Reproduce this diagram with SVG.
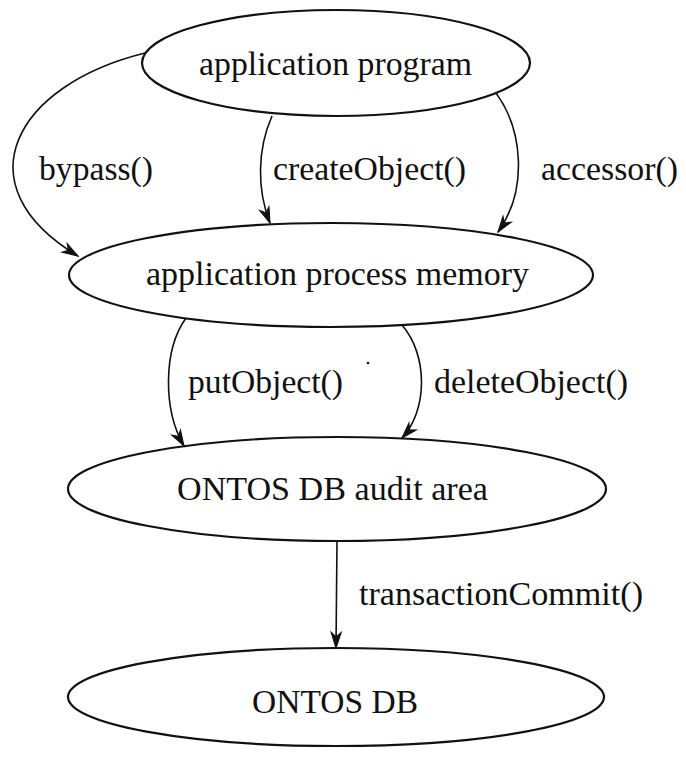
<svg xmlns="http://www.w3.org/2000/svg" width="686" height="757" viewBox="0 0 686 757">
<style>
.node ellipse{fill:none;stroke:#111;stroke-width:2.2}
text{font-family:"Liberation Serif","Times New Roman",serif;font-size:34px;fill:#111}
.edge{fill:none;stroke:#111;stroke-width:1.6}
</style>
<defs>
<marker id="arr" markerUnits="userSpaceOnUse" markerWidth="20" markerHeight="20" viewBox="-16 -8 18 16" refX="0" refY="0" orient="auto">
<path d="M0,0 L-14,-4.5 L-10,0 L-14,4.5 Z" fill="#111" stroke="#111" stroke-width="1"/>
</marker>
</defs>
<rect width="686" height="757" fill="#fff"/>
<g id="n-application-program" class="node">
<ellipse cx="336" cy="63" rx="194" ry="53"/>
<text x="199" y="75" textLength="273" lengthAdjust="spacingAndGlyphs">application program</text>
</g>
<g id="n-process-memory" class="node">
<ellipse cx="331" cy="275" rx="262" ry="52"/>
<text x="146" y="285" textLength="383" lengthAdjust="spacingAndGlyphs">application process memory</text>
</g>
<g id="n-audit-area" class="node">
<ellipse cx="337" cy="489" rx="269" ry="52"/>
<text x="177" y="500" textLength="311" lengthAdjust="spacingAndGlyphs">ONTOS DB audit area</text>
</g>
<g id="n-ontos-db" class="node">
<ellipse cx="336" cy="697" rx="268" ry="49"/>
<text x="252" y="713" textLength="166" lengthAdjust="spacingAndGlyphs">ONTOS DB</text>
</g>
<g id="connectors">
<path class="edge" d="M145,53 C15,85 -40,185 78,256" marker-end="url(#arr)"/>
<path class="edge" d="M272,116 C257,150 257,190 270,223" marker-end="url(#arr)"/>
<path class="edge" d="M496,93 C523,130 528,190 498,232" marker-end="url(#arr)"/>
<path class="edge" d="M186,318 C163,350 163,410 184,446" marker-end="url(#arr)"/>
<path class="edge" d="M402,325 C428,355 428,410 402,438" marker-end="url(#arr)"/>
<path class="edge" d="M337,541 L336,648" marker-end="url(#arr)"/>
<text x="39" y="180" textLength="114" lengthAdjust="spacingAndGlyphs">bypass()</text>
<text x="273" y="180" textLength="193" lengthAdjust="spacingAndGlyphs">createObject()</text>
<text x="541" y="180" textLength="137" lengthAdjust="spacingAndGlyphs">accessor()</text>
<text x="188" y="393" textLength="155" lengthAdjust="spacingAndGlyphs">putObject()</text>
<text x="434" y="393" textLength="194" lengthAdjust="spacingAndGlyphs">deleteObject()</text>
<text x="359" y="605" textLength="284" lengthAdjust="spacingAndGlyphs">transactionCommit()</text>
</g>
<circle cx="368" cy="363" r="1.3" fill="#111"/>
</svg>
